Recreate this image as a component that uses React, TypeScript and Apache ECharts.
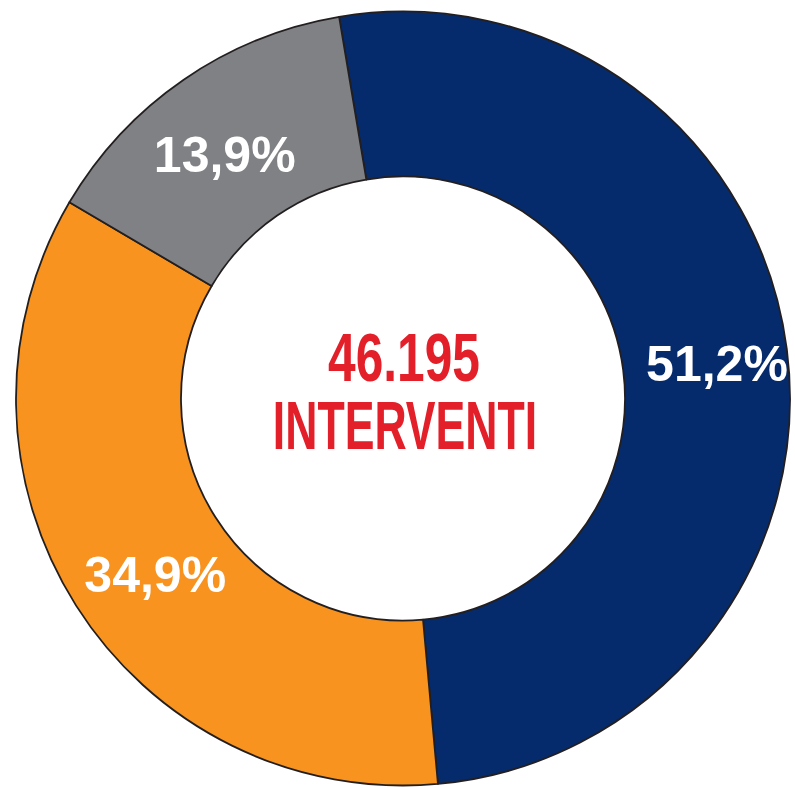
import React, { useEffect, useRef } from "react";
import * as echarts from "echarts";

const categories = ["Blu", "Arancione", "Grigio"];
const values = [51.2, 34.9, 13.9];
const colors = ["#052B6C", "#F7931E", "#808184"];
const labelOffsets = [
  [9, 5],
  [12, 12],
  [-4, 10],
];
const totalLabel = "46.195";
const totalCaption = "INTERVENTI";

const FONT = "'Liberation Sans', Arial, sans-serif";

export default function App() {
  const ref = useRef<HTMLDivElement>(null);
  useEffect(() => {
    if (!ref.current) return;
    const chart = echarts.init(ref.current, undefined, { renderer: "svg" });
    chart.setOption({
      animation: false,
      backgroundColor: "#ffffff",
      series: [
        {
          type: "pie",
          center: [403, 398.5],
          radius: [222, 387],
          startAngle: 99.5,
          clockwise: true,
          silent: true,
          avoidLabelOverlap: false,
          itemStyle: { borderColor: "#231F20", borderWidth: 1.8 },
          label: {
            show: true,
            position: "inside",
            color: "#ffffff",
            fontFamily: FONT,
            fontWeight: "bold",
            fontSize: 50,
            formatter: (p: any) => p.value.toFixed(1).replace(".", ",") + "%",
          },
          labelLine: { show: false },
          emphasis: { disabled: true },
          data: categories.map((c, i) => ({
            name: c,
            value: values[i],
            itemStyle: { color: colors[i] },
            label: { offset: labelOffsets[i] },
          })),
        },
      ],
      graphic: [
        {
          type: "text",
          x: 404,
          y: 358,
          scaleX: 0.73,
          silent: true,
          style: {
            text: totalLabel,
            fill: "#E3202A",
            font: `bold 68px ${FONT}`,
            textAlign: "center",
            textVerticalAlign: "middle",
          },
        },
        {
          type: "text",
          x: 405,
          y: 425,
          scaleX: 0.656,
          silent: true,
          style: {
            text: totalCaption,
            fill: "#E3202A",
            font: `bold 68px ${FONT}`,
            textAlign: "center",
            textVerticalAlign: "middle",
          },
        },
      ],
    });
    return () => chart.dispose();
  }, []);
  return (
    <div
      ref={ref}
      style={{ position: "fixed", left: 0, top: 0, width: 795, height: 788 }}
    />
  );
}
